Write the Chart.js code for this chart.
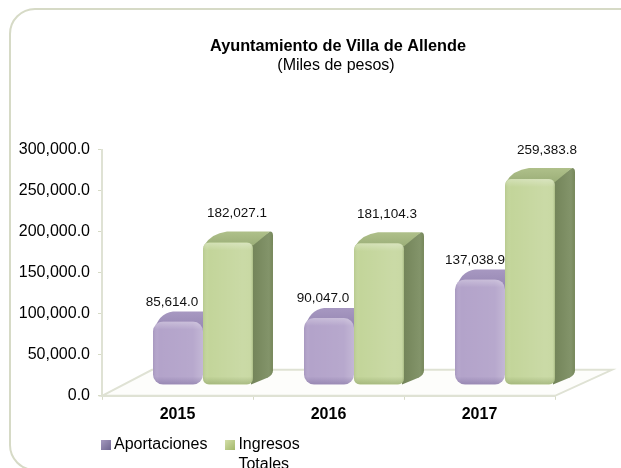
<!DOCTYPE html>
<html>
<head>
<meta charset="utf-8">
<style>
html,body{margin:0;padding:0;background:#fff;overflow:hidden}
#wrap{width:621px;height:468px;position:relative}
</style>
<script src="https://cdn.jsdelivr.net/npm/chart.js@4"></script>
</head>
<body>
<div id="wrap"><canvas id="c" width="621" height="468"></canvas></div>
<script>
const categories = ['2015', '2016', '2017'];
const aportaciones = [85614.0, 90047.0, 137038.9];
const ingresosTotales = [182027.1, 181104.3, 259383.8];
const seriesNames = ['Aportaciones', ['Ingresos', 'Totales']];
const titleText = 'Ayuntamiento de Villa de Allende';
const subtitleText = '(Miles de pesos)';

const FONT = '"Liberation Sans", Arial, sans-serif';
const fmt = v => v.toLocaleString('en-US', {minimumFractionDigits: 1, maximumFractionDigits: 1});
const BAR_BASE = 9000;
const SHIFT = {x: 25.5, y: -4};
const DEPTH = {x: 20, y: -11};
const labelNudge = [[-6, -6, -5], [9, 8, 17]];
const labelRise = [23.5, 33];
const frame = '#d6dac6';

function swatch(dark, light) {
  const s = document.createElement('canvas');
  s.width = 10; s.height = 10;
  const g = s.getContext('2d');
  const grad = g.createLinearGradient(0, 0, 10, 10);
  grad.addColorStop(0, light); grad.addColorStop(1, dark);
  g.fillStyle = grad; g.fillRect(0, 0, 10, 10);
  return s;
}
const swatches = [swatch('#6f6690', '#a79bc0'), swatch('#a3b86a', '#d5e0aa')];

const faces = {
  id: 'faces',
  beforeDraw(chart) {
    const c = chart.ctx;
    c.save();
    c.strokeStyle = frame; c.lineWidth = 2;
    c.beginPath();
    c.roundRect(10, 9, 660, 461, 25);
    c.stroke();
    c.restore();
  },
  beforeDatasetsDraw(chart) {
    const c = chart.ctx, xs = chart.scales.x, ys = chart.scales.y;
    const bottom = ys.bottom, left = xs.left, right = xs.right;
    // floor of the 3D box
    c.save();
    c.fillStyle = '#fdfdfb';
    c.strokeStyle = '#dfe2d4';
    c.lineWidth = 2;
    c.beginPath();
    c.moveTo(left, bottom);
    c.lineTo(left + 50, bottom - 26);
    c.lineTo(right + 57, bottom - 26);
    c.lineTo(right, bottom);
    c.closePath();
    c.fill();
    c.stroke();
    c.restore();

    // left open until afterDatasetsDraw, so the library's bars share the shift
    c.save();
    c.translate(SHIFT.x, SHIFT.y);
    // purple top faces, hidden behind the green bar on the right
    chart.getDatasetMeta(0).data.forEach(el => {
      const l = el.x - el.width / 2, r = el.x + el.width / 2;
      c.save();
      c.beginPath(); c.rect(l - 1, el.y - 30, el.width + 1, 60); c.clip();
      const g = c.createLinearGradient(0, el.y + DEPTH.y, 0, el.y + 4);
      g.addColorStop(0, '#a899c2'); g.addColorStop(1, '#9a8bb6');
      c.fillStyle = g;
      c.beginPath();
      c.moveTo(l + 1, el.y + 10);
      c.quadraticCurveTo(l + 5, el.y + DEPTH.y + 3, l + 20, el.y + DEPTH.y + 1);
      c.lineTo(r + 20, el.y + DEPTH.y + 1);
      c.lineTo(r, el.y + 10);
      c.closePath();
      c.fill();
      c.restore();
    });
    // green side and top faces
    chart.getDatasetMeta(1).data.forEach(el => {
      const l = el.x - el.width / 2, r = el.x + el.width / 2;
      const t = el.y, b = el.base;
      const side = c.createLinearGradient(r, 0, r + DEPTH.x, 0);
      side.addColorStop(0, '#74855a'); side.addColorStop(0.8, '#83946a'); side.addColorStop(1, '#76875a');
      c.fillStyle = side;
      c.beginPath();
      c.moveTo(r - 2, t + 2);
      c.lineTo(r + DEPTH.x - 3, t + DEPTH.y);
      c.quadraticCurveTo(r + DEPTH.x, t + DEPTH.y, r + DEPTH.x, t + DEPTH.y + 4);
      c.lineTo(r + DEPTH.x, b + DEPTH.y - 3);
      c.quadraticCurveTo(r + DEPTH.x, b + DEPTH.y + 1, r + DEPTH.x - 5, b + DEPTH.y + 4);
      c.lineTo(r - 2, b);
      c.closePath();
      c.fill();
      const top = c.createLinearGradient(0, t + DEPTH.y, 0, t + 2);
      top.addColorStop(0, '#afc08a'); top.addColorStop(1, '#9db07a');
      c.fillStyle = top;
      c.beginPath();
      c.moveTo(l + 1, t + 3);
      c.quadraticCurveTo(l + 8, t + DEPTH.y + 2, l + 24, t + DEPTH.y);
      c.lineTo(r + DEPTH.x - 3, t + DEPTH.y);
      c.lineTo(r, t + 3);
      c.closePath();
      c.fill();
    });
  },
  afterDatasetsDraw(chart) {
    const c = chart.ctx;
    // soft shading on the bar fronts
    [0, 1].forEach(i => {
      chart.getDatasetMeta(i).data.forEach(el => {
        const l = el.x - el.width / 2;
        const rad = i === 0 ? 10 : 6;
        c.save();
        c.beginPath();
        c.roundRect(l, el.y, el.width, el.base - el.y, rad);
        c.clip();
        const h = c.createLinearGradient(l, 0, l + el.width, 0);
        if (i === 0) {
          h.addColorStop(0, 'rgba(120,105,150,.22)');
          h.addColorStop(.12, 'rgba(255,255,255,0)');
          h.addColorStop(.8, 'rgba(255,255,255,.06)');
          h.addColorStop(1, 'rgba(255,255,255,.22)');
        } else {
          h.addColorStop(0, 'rgba(130,150,90,.18)');
          h.addColorStop(.12, 'rgba(255,255,255,0)');
          h.addColorStop(.8, 'rgba(255,255,255,.12)');
          h.addColorStop(.94, 'rgba(255,255,255,.1)');
          h.addColorStop(1, 'rgba(110,130,80,.3)');
        }
        c.fillStyle = h;
        c.fillRect(l, el.y, el.width, el.base - el.y);
        const v = c.createLinearGradient(0, el.base - 8, 0, el.base);
        v.addColorStop(0, i === 0 ? 'rgba(100,85,135,0)' : 'rgba(120,140,80,0)');
        v.addColorStop(1, i === 0 ? 'rgba(100,85,135,.35)' : 'rgba(120,140,80,.4)');
        c.fillStyle = v;
        c.fillRect(l, el.base - 8, el.width, 8);
        const u = c.createLinearGradient(0, el.y, 0, el.y + 8);
        u.addColorStop(0, 'rgba(255,255,255,.28)');
        u.addColorStop(1, 'rgba(255,255,255,0)');
        c.fillStyle = u;
        c.fillRect(l, el.y, el.width, 8);
        c.restore();
      });
    });
    // value labels
    c.fillStyle = '#111';
    c.font = '13.5px ' + FONT;
    c.textAlign = 'center';
    c.textBaseline = 'middle';
    chart.data.datasets.forEach((d, i) => {
      chart.getDatasetMeta(i).data.forEach((el, j) => {
        c.fillText(fmt(d.data[j]), el.x + labelNudge[i][j], el.y - labelRise[i] - SHIFT.y);
      });
    });
    c.restore();
  },
  afterLayout(chart) {
    // the source places these off the canvas centre
    chart.titleBlock.left += 60.5;
    chart.titleBlock.right += 60.5;
    chart.legend.left = 83;
    chart.legend.top = 415;
    const sub = chart.boxes.find(b => b.options && b.options.text === subtitleText);
    if (sub) { sub.left += 58.5; sub.right += 58.5; }
  }
};

new Chart(document.getElementById('c'), {
  type: 'bar',
  data: {
    labels: categories,
    datasets: [
      {label: seriesNames[0], data: aportaciones, backgroundColor: '#b3a3ca', borderRadius: 10, borderSkipped: false, base: BAR_BASE},
      {label: seriesNames[1], data: ingresosTotales, backgroundColor: '#c3d59a', borderRadius: 6, borderSkipped: false, base: BAR_BASE}
    ]
  },
  options: {
    responsive: false,
    animation: false,
    layout: {padding: {top: 37, left: 0, right: 66, bottom: -9}},
    datasets: {bar: {barPercentage: 1, categoryPercentage: 0.662}},
    plugins: {
      title: {display: true, text: titleText, color: '#000', font: {family: FONT, size: 16.3, weight: 'bold'}, padding: {top: 0, bottom: 0}},
      subtitle: {display: true, text: subtitleText, color: '#000', font: {family: FONT, size: 16, weight: 'normal'}, padding: {top: -1, bottom: 75}},
      legend: {
        position: 'bottom',
        align: 'start',
        labels: {
          color: '#000',
          font: {family: FONT, size: 16},
          usePointStyle: true,
          pointStyleWidth: 1,
          padding: 22,
          generateLabels(chart) {
            return chart.data.datasets.map((d, i) => ({text: d.label, pointStyle: swatches[i], datasetIndex: i, fontColor: '#000', lineWidth: 0, strokeStyle: 'transparent'}));
          }
        }
      },
      tooltip: {enabled: false}
    },
    scales: {
      x: {
        ticks: {color: '#000', font: {family: FONT, size: 16, weight: 'bold'}, padding: 5},
        grid: {drawOnChartArea: false, drawTicks: true, tickLength: 4, color: frame},
        border: {color: '#dfe2d4', width: 2}
      },
      y: {
        min: 0,
        max: 300000,
        afterFit(s) { s.width = 102; },
        ticks: {stepSize: 50000, color: '#000', font: {family: FONT, size: 16}, padding: 8, callback: v => fmt(v)},
        grid: {drawOnChartArea: false, drawTicks: true, tickLength: 4, color: frame},
        border: {color: '#dfe2d4', width: 2}
      }
    }
  },
  plugins: [faces]
});
</script>
</body>
</html>
